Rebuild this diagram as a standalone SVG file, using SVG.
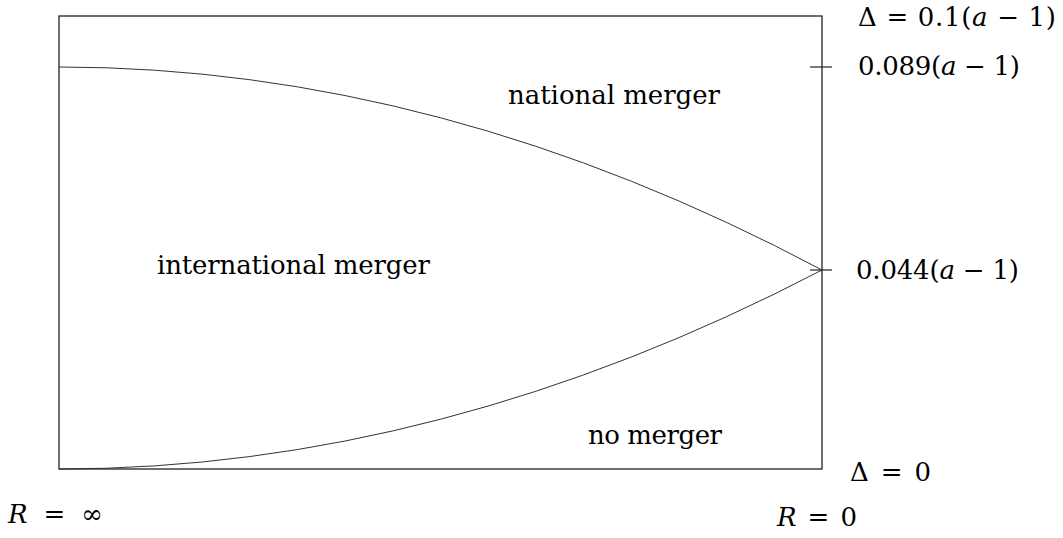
<svg xmlns="http://www.w3.org/2000/svg" width="1063" height="538" viewBox="0 0 1063 538">
<style>
.t{font-family:'DejaVu Serif','Liberation Serif',serif;font-size:26px;fill:#000}
.it{font-style:italic}
.frame{fill:none;stroke:#222;stroke-width:1.3}
.curve{fill:none;stroke:#333;stroke-width:1}
.tick{stroke:#222;stroke-width:1.2}
</style>
<rect width="1063" height="538" fill="#fff"/>
<g id="frame">
<rect class="frame" x="59" y="16" width="763" height="453"/>
</g>
<g id="connectors">
<path class="curve" d="M59,67 Q440.5,67 822,270"/>
<path class="curve" d="M59,469 Q440.5,469 822,270"/>
<line class="tick" x1="810" y1="67" x2="832" y2="67"/>
<line class="tick" x1="810" y1="270" x2="832" y2="270"/>
</g>
<g id="region-labels">
<text class="t" x="508" y="104" textLength="212" lengthAdjust="spacing">national merger</text>
<text class="t" x="157" y="274" textLength="273" lengthAdjust="spacing">international merger</text>
<text class="t" x="588" y="444" textLength="134" lengthAdjust="spacing">no merger</text>
</g>
<g id="axis-labels">
<text class="t" x="858" y="26" textLength="198" lengthAdjust="spacing">Δ = 0.1(<tspan class="it">a</tspan> − 1)</text>
<text class="t" x="858" y="75" textLength="162" lengthAdjust="spacing">0.089(<tspan class="it">a</tspan> − 1)</text>
<text class="t" x="856" y="279" textLength="163" lengthAdjust="spacing">0.044(<tspan class="it">a</tspan> − 1)</text>
<text class="t" x="850" y="481" textLength="81" lengthAdjust="spacing">Δ = 0</text>
<text class="t" x="777" y="526" textLength="80" lengthAdjust="spacing"><tspan class="it">R</tspan> = 0</text>
<text class="t" x="8" y="523" textLength="95" lengthAdjust="spacing"><tspan class="it">R</tspan> = ∞</text>
</g>
</svg>
